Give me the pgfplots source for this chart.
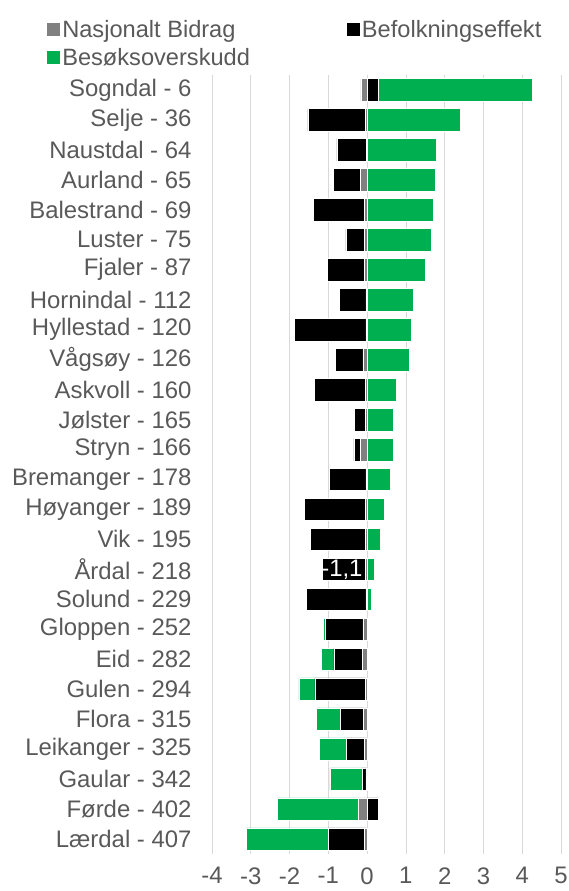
\documentclass[border=0pt]{standalone}
\usepackage{pgfplots}
\pgfplotsset{compat=1.18}
\usepackage{pgfplotstable}
\usepackage{fontspec}
\setmainfont{Liberation Sans}
\definecolor{nbgray}{HTML}{808080}
\definecolor{bogreen}{HTML}{00B050}
\definecolor{gridgray}{HTML}{D9D9D9}
\definecolor{txtgray}{HTML}{595959}

\pgfplotstableread{
idx NB BE BO
0 -0.16 0.30 3.97
1 -0.05 -1.48 2.40
2 -0.01 -0.77 1.78
3 -0.17 -0.70 1.77
4 -0.07 -1.32 1.71
5 -0.08 -0.47 1.65
6 -0.07 -0.96 1.51
7 -0.03 -0.68 1.20
8 -0.03 -1.84 1.13
9 -0.11 -0.70 1.09
10 -0.04 -1.32 0.74
11 -0.04 -0.28 0.68
12 -0.17 -0.17 0.67
13 -0.03 -0.94 0.59
14 -0.04 -1.58 0.44
15 -0.04 -1.43 0.35
16 -0.05 -1.11 0.19
17 -0.03 -1.53 0.10
18 -0.11 -0.97 -0.04
19 -0.13 -0.73 -0.31
20 -0.05 -1.30 -0.41
21 -0.10 -0.59 -0.61
22 -0.07 -0.47 -0.69
23 -0.03 -0.10 -0.83
24 -0.23 0.30 -2.08
25 -0.08 -0.91 -2.13
}\data

\pgfplotsset{
  base/.style={
    scale only axis, width=349bp, height=779bp,
    xmin=-4, xmax=5, ymin=-0.5, ymax=25.5, y dir=reverse,
    xbar stacked, bar width=22.5bp,
    at={(0,0)}, anchor=south west,
  },
  barsty/.style={fill=#1, draw=white, line width=0.5bp},
}
\newcommand{\chartfont}{\fontsize{24}{28}\selectfont}
\newcommand{\legfont}{\fontsize{23.7}{28}\selectfont}

\begin{document}
\begin{tikzpicture}
\begin{axis}[base,
  axis line style={draw=none}, major tick length=0pt,
  xmajorgrids, grid style={gridgray, line width=0.75bp},
  xtick={-4,...,5}, ytick={0,...,25},
  yticklabels={Sogndal - 6, Selje - 36, Naustdal - 64, Aurland - 65, Balestrand - 69, Luster - 75, Fjaler - 87, Hornindal - 112, Hyllestad - 120, Vågsøy - 126, Askvoll - 160, Jølster - 165, Stryn - 166, Bremanger - 178, Høyanger - 189, Vik - 195, Årdal - 218, Solund - 229, Gloppen - 252, Eid - 282, Gulen - 294, Flora - 315, Leikanger - 325, Gaular - 342, Førde - 402, Lærdal - 407},
  tick label style={font=\chartfont, text=txtgray},
  /pgf/number format/assume math mode=true,
  yticklabel style={xshift=-17bp},
  xticklabel style={yshift=-10bp},
  legend columns=2, legend cell align=left,
  legend image code/.code={\fill[#1, draw=none] (0bp,-6.5bp) rectangle (13bp,6.5bp);},
  legend style={at={(-0.481,1.076)}, anchor=north west, draw=none, fill=none,
    font=\legfont, text=txtgray, row sep=6bp,
    /tikz/every even column/.append style={column sep=95bp}},
]
\addplot[barsty=nbgray] table[x expr={min(\thisrow{NB},0)}, y=idx]{\data};
\addplot[barsty=black] table[x expr={min(\thisrow{BE},0)}, y=idx]{\data};
\addplot[barsty=bogreen] table[x expr={min(\thisrow{BO},0)}, y=idx]{\data};
\legend{Nasjonalt Bidrag, Befolkningseffekt, Besøksoverskudd}
\end{axis}
\begin{axis}[base, hide axis]
\addplot[barsty=nbgray] table[x expr={max(\thisrow{NB},0)}, y=idx]{\data};
\addplot[barsty=black] table[x expr={max(\thisrow{BE},0)}, y=idx]{\data};
\addplot[barsty=bogreen] table[x expr={max(\thisrow{BO},0)}, y=idx]{\data};
\node[text=white, font=\chartfont] at (axis cs:-0.65,16) {-1,1};
\end{axis}
\pgfresetboundingbox
\path (-212bp,-37bp) rectangle (357bp,854bp);
\end{tikzpicture}
\end{document}
